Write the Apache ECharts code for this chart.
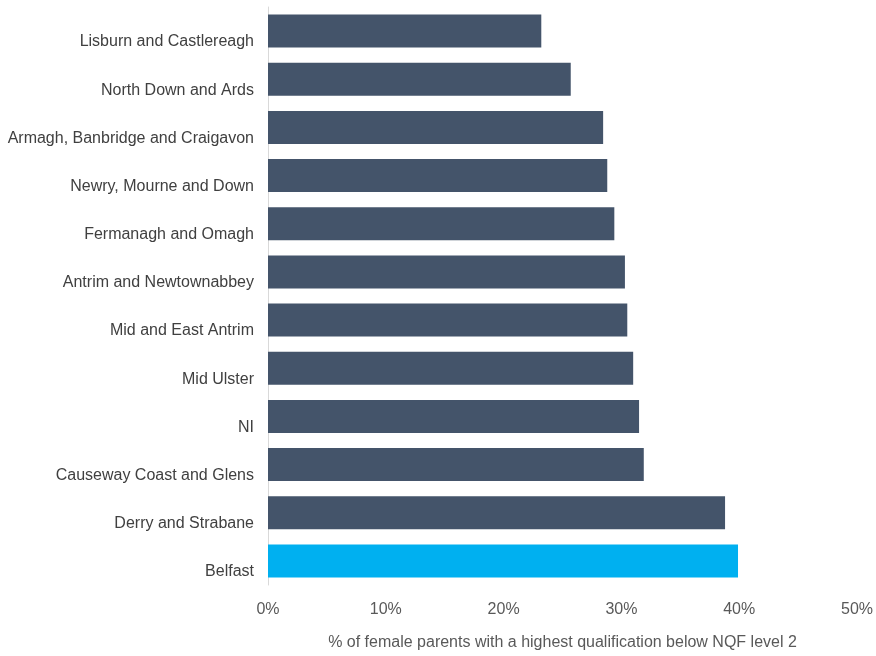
<!DOCTYPE html>
<html><head><meta charset="utf-8">
<script src="https://cdn.jsdelivr.net/npm/echarts@6/dist/echarts.min.js"></script>
<style>html,body{margin:0;padding:0;background:#fff}#c{width:876px;height:656px}</style>
</head><body><div id="c"></div>
<script>
var categories = ["Lisburn and Castlereagh","North Down and Ards","Armagh, Banbridge and Craigavon","Newry, Mourne and Down","Fermanagh and Omagh","Antrim and Newtownabbey","Mid and East Antrim","Mid Ulster","NI","Causeway Coast and Glens","Derry and Strabane","Belfast"];
var values = [23.2,25.7,28.45,28.8,29.4,30.3,30.5,31.0,31.5,31.9,38.8,39.9];
var highlight = "Belfast";
var xTicks = [0,10,20,30,40,50];
var axisTitle = "% of female parents with a highest qualification below NQF level 2";
var FONT = "'Liberation Sans Narrow','Arial Narrow','Liberation Sans',sans-serif";
var chart = echarts.init(document.getElementById('c'));
chart.setOption({
  animation:false,
  grid:{left:268,right:17,top:7,bottom:66,containLabel:false},
  xAxis:{type:'value',min:xTicks[0],max:xTicks[xTicks.length-1],interval:10,
    axisLine:{show:false},axisTick:{show:false},splitLine:{show:false},
    axisLabel:{formatter:function(v){return v+'%';},color:'#595959',fontSize:16,fontFamily:FONT,margin:17},
    name:axisTitle,nameLocation:'middle',nameGap:50,
    nameTextStyle:{color:'#595959',fontSize:16,fontFamily:FONT}},
  yAxis:{type:'category',inverse:true,data:categories,
    axisLine:{show:true,lineStyle:{color:'#D9D9D9',width:1}},axisTick:{show:false},
    axisLabel:{color:'#404040',fontSize:16,fontFamily:FONT,margin:14,verticalAlign:'top',padding:[3,0,0,0]}},
  series:[{type:'bar',barWidth:33,
    data:categories.map(function(c,i){return {value:values[i],itemStyle:{color:c===highlight?'#00B0F0':'#44546A'}};})}]
});
</script></body></html>
